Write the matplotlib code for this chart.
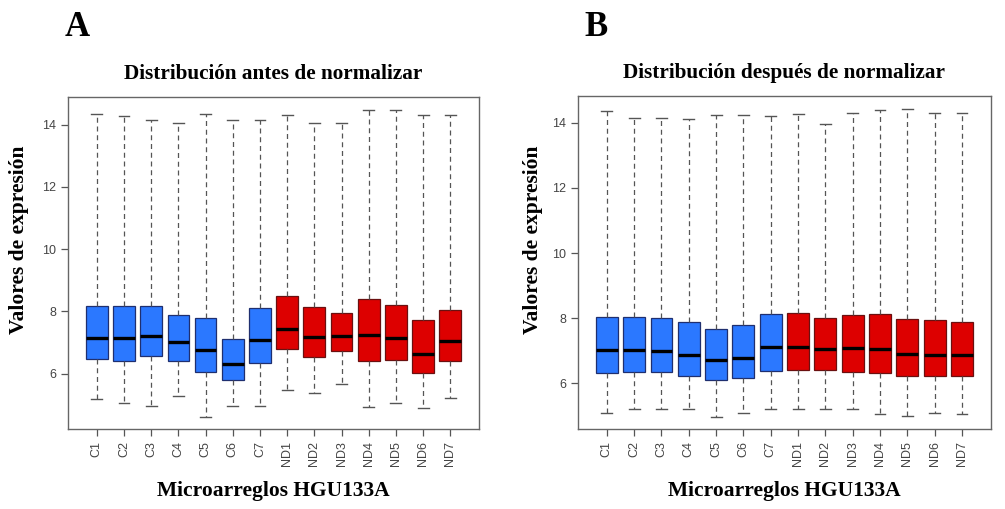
import matplotlib
matplotlib.use("Agg")
from matplotlib import pyplot as plt

# Array names on the x axis
samples = ["C1", "C2", "C3", "C4", "C5", "C6", "C7",
           "ND1", "ND2", "ND3", "ND4", "ND5", "ND6", "ND7"]

# Panel A: before normalization (whisker low, Q1, median, Q3, whisker high)
a_low = [5.17, 5.04, 4.97, 5.29, 4.61, 4.97, 4.97, 5.47, 5.39, 5.67, 4.93, 5.06, 4.88, 5.21]
a_q1 = [6.48, 6.40, 6.55, 6.40, 6.04, 5.80, 6.33, 6.80, 6.53, 6.72, 6.42, 6.44, 6.01, 6.40]
a_med = [7.14, 7.13, 7.20, 7.00, 6.76, 6.32, 7.07, 7.43, 7.16, 7.21, 7.25, 7.15, 6.64, 7.06]
a_q3 = [8.16, 8.18, 8.18, 7.87, 7.79, 7.10, 8.11, 8.48, 8.13, 7.94, 8.41, 8.22, 7.71, 8.05]
a_high = [14.33, 14.29, 14.14, 14.06, 14.35, 14.15, 14.14, 14.32, 14.06, 14.06, 14.47, 14.49, 14.32, 14.32]

# Panel B: after normalization
b_low = [5.10, 5.20, 5.20, 5.20, 4.97, 5.10, 5.20, 5.20, 5.20, 5.20, 5.06, 4.99, 5.10, 5.06]
b_q1 = [6.30, 6.33, 6.33, 6.23, 6.09, 6.16, 6.37, 6.41, 6.40, 6.36, 6.31, 6.23, 6.23, 6.23]
b_med = [7.02, 7.02, 7.00, 6.86, 6.70, 6.79, 7.11, 7.11, 7.05, 7.09, 7.05, 6.91, 6.87, 6.87]
b_q3 = [8.04, 8.04, 7.99, 7.87, 7.66, 7.78, 8.13, 8.17, 8.00, 8.09, 8.13, 7.96, 7.93, 7.89]
b_high = [14.36, 14.15, 14.15, 14.13, 14.23, 14.23, 14.20, 14.26, 13.95, 14.31, 14.39, 14.44, 14.30, 14.30]

BLUE = "#2b78ff"
RED = "#dd0000"
colors = [BLUE] * 7 + [RED] * 7
serif = ["Liberation Serif", "DejaVu Serif"]
sans = ["Liberation Sans", "DejaVu Sans"]


def draw_panel(ax, low, q1, med, q3, high, title, ylab_x, ylab_y):
    stats = []
    for i in range(len(samples)):
        stats.append({"whislo": low[i], "q1": q1[i], "med": med[i],
                      "q3": q3[i], "whishi": high[i], "fliers": []})
    pos = list(range(1, len(samples) + 1))
    bp = ax.bxp(stats, positions=pos, widths=0.8, patch_artist=True,
                showfliers=False,
                whiskerprops=dict(color="#555555", linestyle=(0, (4, 3)), linewidth=0.9),
                capprops=dict(color="#555555", linewidth=1.0),
                medianprops=dict(color="black", linewidth=2.4),
                boxprops=dict(linewidth=0.9))
    for patch, c in zip(bp["boxes"], colors):
        patch.set_facecolor(c)
        patch.set_edgecolor("#1f2f6f" if c == BLUE else "#6a1010")
    for cap in bp["caps"]:
        x0, x1 = cap.get_xdata()
        mid = (x0 + x1) / 2
        cap.set_xdata([mid - 0.2, mid + 0.2])
    # R-like axis ranges
    lo = min(low)
    hi = max(high)
    pad = (hi - lo) * 0.04
    ax.set_ylim(lo - pad, hi + pad)
    ax.set_xlim(0.5 - 0.56, len(samples) + 0.5 + 0.56)
    ax.set_yticks([6, 8, 10, 12, 14])
    ax.set_xticks(pos)
    ax.set_xticklabels(samples, rotation=90, family=sans, fontsize=9, color="#444444")
    for lab in ax.get_yticklabels():
        lab.set_family(sans)
        lab.set_fontsize(9)
        lab.set_color("#444444")
    ax.tick_params(direction="out", length=5, color="#555555", width=0.9)
    for s in ax.spines.values():
        s.set_color("#666666")
        s.set_linewidth(1.0)
    ax.set_title(title, family=serif, fontweight="bold", fontsize=15.3, pad=13)
    ax.set_ylabel("Valores de expresión", family=serif, fontweight="bold", fontsize=15.5,
                  va="center")
    ax.yaxis.set_label_coords(ylab_x, ylab_y)
    ax.set_xlabel("Microarreglos HGU133A", family=serif, fontweight="bold", fontsize=15.5, labelpad=11)


fig = plt.figure(figsize=(10.05, 5.09), dpi=100)
ax1 = fig.add_axes([0.0677, 0.157, 0.409, 0.652])
ax2 = fig.add_axes([0.575, 0.157, 0.411, 0.654])

draw_panel(ax1, a_low, a_q1, a_med, a_q3, a_high, "Distribución antes de normalizar", -0.12, 0.57)
draw_panel(ax2, b_low, b_q1, b_med, b_q3, b_high, "Distribución después de normalizar", -0.108, 0.57)

fig.text(0.064, 0.945, "A", family=serif, fontweight="bold", fontsize=25, va="center")
fig.text(0.582, 0.945, "B", family=serif, fontweight="bold", fontsize=25, va="center")

fig.savefig("out.png", dpi=100)
